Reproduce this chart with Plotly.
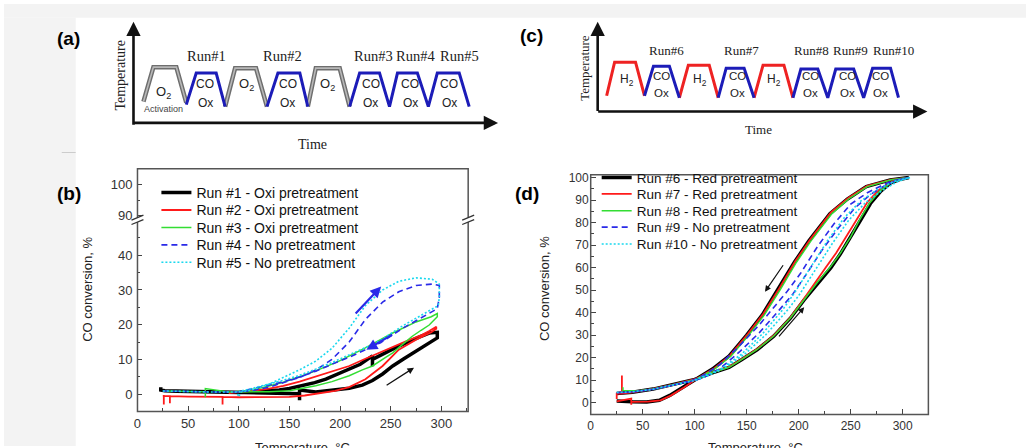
import plotly.graph_objects as go

W, H = 1026, 448


def fx(p):
    return p / W


def fy(p):
    return 1 - p / H


# ---------------- Panel (b): CO conversion (%) vs temperature (°C), runs #1-#5
b_names = ["Run #1 - Oxi pretreatment", "Run #2 - Oxi pretreatment", "Run #3 - Oxi pretreatment",
           "Run #4 - No pretreatment", "Run #5 - No pretreatment"]
run1_T = [23, 23, 27, 45, 60, 80, 95, 110, 127, 145, 160, 160, 160, 176, 195, 209, 222, 232, 242, 252,
          263, 275, 285, 294, 296, 296, 288, 278, 268, 258, 248, 240, 232, 232, 232, 220, 209, 197, 186, 175,
          163, 150, 140, 125, 110, 100, 80, 60, 40, 27]
run1_C = [2.0, 1.2, 1.0, 0.85, 0.75, 0.65, 0.5, 0.4, 0.3, 0.2, 0.1, -1.8, 1.2, 0.6, 1.2, 1.7, 2.6, 3.9, 5.8, 8.1,
          10.2, 12.4, 14.2, 15.7, 16.2, 17.8, 17.6, 16.4, 15.2, 13.8, 12.4, 11.2, 10.0, 8.0, 11.0, 8.6, 7.2, 5.6, 4.3, 3.3,
          2.4, 1.6, 1.2, 0.8, 0.6, 0.5, 0.6, 0.7, 0.8, 0.9]
run2_T = [25, 26, 26, 26, 32, 32, 32, 50, 70, 84, 84, 84, 100, 125, 150, 165, 176, 195, 209, 225,
          242, 258, 275, 290, 295, 295, 288, 281, 265, 242, 225, 209, 192, 176, 160, 144, 130, 115, 100, 90]
run2_C = [-0.5, -0.5, -3.0, -0.5, -0.6, -2.6, -0.6, -0.7, -0.8, -0.8, -3.0, -0.8, -0.9, -0.9, -0.8, -0.4, 0.1, 0.9, 2.0, 4.3,
          8.1, 12.8, 15.7, 17.8, 18.8, 19.4, 18.2, 17.1, 15.2, 12.4, 10.2, 8.1, 6.5, 5.0, 3.6, 2.4, 1.6, 1.0, 0.5, 0.3]
run3_T = [25, 45, 67, 67, 67, 90, 110, 130, 150, 176, 192, 209, 222, 232, 245, 252, 262, 271, 280, 288,
          296, 296, 290, 275, 252, 225, 199, 176, 160, 144, 125, 110, 95]
run3_C = [0.9, 0.8, 0.7, -0.9, 1.6, 0.6, 0.6, 0.7, 1.0, 2.4, 3.6, 5.3, 7.0, 8.1, 10.6, 11.9, 14.4, 16.6, 18.4, 19.9,
          22.3, 23.2, 22.3, 20.8, 17.6, 13.3, 9.5, 6.7, 5.0, 3.4, 2.0, 1.1, 0.6]
run4_T = [25, 50, 75, 100, 115, 130, 143, 160, 176, 192, 209, 225, 242, 258, 275, 291, 298, 298, 296, 285,
          275, 262, 252, 240, 225, 209, 192, 176, 160, 143, 125, 110, 100]
run4_C = [0.9, 0.7, 0.6, 0.6, 1.1, 2.0, 3.2, 4.8, 6.9, 10.0, 15.0, 21.5, 26.5, 29.5, 31.3, 31.7, 31.3, 27.9, 24.6, 22.8,
          21.3, 19.0, 17.1, 14.8, 12.8, 10.6, 8.6, 6.6, 4.9, 3.5, 2.3, 1.3, 0.7]
run5_T = [25, 50, 75, 98, 100, 102, 115, 130, 143, 160, 176, 192, 209, 225, 242, 258, 275, 291, 298, 298,
          297, 285, 275, 262, 252, 240, 225, 209, 192, 176, 160, 143, 125, 110, 100]
run5_C = [0.9, 0.7, 0.6, 0.6, -0.8, 0.6, 1.4, 2.9, 4.6, 7.0, 9.5, 13.2, 19.0, 25.5, 30.0, 32.5, 33.5, 33.1, 31.7, 28.0,
          25.5, 23.5, 22.0, 19.7, 17.8, 15.5, 13.4, 11.2, 9.1, 7.2, 5.4, 3.9, 2.5, 1.4, 0.7]

# ---------------- Panel (d): runs #6-#10
d_names = ["Run #6 - Red pretreatment", "Run #7 - Red pretreatment", "Run #8 - Red pretreatment",
           "Run #9 - No pretreatment", "Run #10 - No pretreatment"]
run6_T = [25, 40, 60, 80, 100, 117, 133, 145, 160, 176, 192, 205, 218, 231, 240, 250, 260, 269, 279, 288,
          298, 306, 288, 265, 247, 230, 210, 196, 180, 165, 150, 133, 117, 101, 89, 76, 66, 54, 40, 25]
run6_C = [4.0, 4.6, 6.0, 8.0, 10.3, 13.2, 15.6, 19.0, 23.5, 29.5, 37.5, 45.5, 53.0, 60.0, 66.0, 73.4, 81.5, 88.5, 94.0, 97.5,
          99.3, 100.0, 99.0, 96.0, 90.5, 84.0, 72.0, 62.5, 50.0, 39.0, 30.0, 20.7, 14.9, 10.5, 6.9, 3.2, 1.0, 0.3, 0.4, 0.7]
run7_T = [25, 25, 30, 30, 30, 40, 60, 80, 100, 117, 133, 145, 160, 176, 192, 204, 215, 226, 236, 246,
          256, 266, 277, 288, 298, 306,
          289, 266, 248, 231, 211, 197, 181, 166, 151, 134, 118, 102, 90, 77, 67, 55, 39, 39, 39, 25]
run7_C = [1.6, 4.0, 4.0, 12.0, 4.0, 4.6, 6.1, 8.1, 10.4, 13.4, 15.9, 19.3, 23.8, 29.8, 37.8, 45.5, 53.0, 60.0, 66.5, 74.0,
          82.0, 89.0, 94.5, 97.8, 99.4, 100.0,
          99.1, 96.3, 91.0, 84.5, 72.5, 63.0, 50.5, 39.5, 30.5, 21.0, 15.0, 10.6, 6.8, 3.1, 1.0, 0.4, 0.3, -1.0, 1.8, 0.5]
run8_T = [31, 31, 45, 60, 80, 100, 117, 133, 145, 160, 176, 192, 205, 218, 230, 240, 250, 259, 268, 278,
          288, 298, 306, 289, 266, 248, 232, 212, 198, 182, 167, 152, 135, 119, 102]
run8_C = [6.8, 5.4, 5.2, 6.0, 8.0, 10.2, 13.3, 15.7, 19.1, 23.6, 29.6, 37.6, 45.6, 53.5, 60.0, 66.3, 73.7, 81.6, 88.6, 94.0,
          97.5, 99.3, 100.0, 99.0, 96.0, 90.5, 84.0, 72.0, 62.5, 50.0, 39.0, 30.0, 20.7, 14.9, 10.5]
run9_T = [25, 40, 60, 80, 100, 110, 124, 143, 162, 181, 194, 208, 222, 238, 254, 269, 282, 294, 306,
          290, 279, 266, 250, 234, 218, 202, 189, 178, 162, 143, 124, 110, 100, 80, 60, 40, 25]
run9_C = [4.4, 4.8, 6.0, 8.0, 9.8, 11.5, 15.0, 22.5, 31.0, 41.0, 48.0, 57.5, 67.5, 77.5, 86.5, 92.5, 96.2, 98.8, 100.0,
          98.6, 96.3, 93.3, 88.2, 79.5, 69.3, 57.6, 49.5, 43.5, 34.5, 25.2, 16.8, 12.6, 10.2, 7.9, 5.9, 4.7, 4.4]
run10_T = [25, 40, 60, 80, 100, 112, 128, 148, 168, 189, 200, 216, 232, 248, 264, 280, 295, 307,
           292, 276, 260, 244, 228, 212, 196, 185, 165, 145, 125, 110, 100]
run10_C = [4.5, 4.8, 5.9, 7.8, 9.8, 11.8, 15.2, 21.5, 30.0, 41.0, 47.5, 59.0, 70.5, 81.0, 88.8, 94.2, 98.2, 100.0,
           98.4, 94.8, 89.7, 82.3, 72.2, 60.5, 48.8, 41.5, 30.5, 21.5, 15.0, 12.0, 10.0]

# ---------------- Schematic (a): temperature programme vs time (arbitrary units)
a_o2_time = [10, 20, 43, 53, None, 92, 102, 123, 134, None, 175, 183, 207, 217]
a_o2_temp = [23, 58, 58, 22, None, 18, 57, 57, 18, None, 18, 57, 57, 18]
a_co_time = [53, 63, 83, 92, None, 134, 145, 167, 175, None, 217, 227, 247, 257, 265, 285, 296, 305, 327, 337]
a_co_temp = [20, 52, 52, 18, None, 18, 52, 52, 18, None, 18, 52, 52, 18, 52, 52, 18, 52, 52, 18]
a_run_labels = ["Run#1", "Run#2", "Run#3", "Run#4", "Run#5"]
a_run_time = [73, 150, 241, 283.5, 327]
a_co_label_time = [72, 155, 238, 278, 317]
a_o2_label_time = [30, 113, 195]
a_o2_label_temp = [32, 40, 40]

# ---------------- Schematic (c)
c_h2_time = [9, 17, 38, 47, None, 82, 91, 112, 121, None, 157, 166, 187, 196]
c_h2_temp = [16, 50, 50, 16, None, 14, 47, 47, 14, None, 14, 47, 47, 14]
c_co_time = [47, 56, 72, 82, None, 121, 129, 147, 157, None, 196, 204, 221, 231, 239, 257, 267, 276, 294, 302]
c_co_temp = [16, 46, 46, 14, None, 14, 44, 44, 14, None, 14, 43, 43, 14, 43, 43, 14, 44, 44, 14]
c_run_labels = ["Run#6", "Run#7", "Run#8", "Run#9", "Run#10"]
c_run_time = [69, 144, 215, 254, 297]
c_co_label_time = [64, 140, 214, 251, 284]
c_h2_label_time = [29, 103, 177]

# ---------------- styles
SANS = "Liberation Sans, Arial, sans-serif"
SERIF = "Liberation Serif, Times New Roman, serif"
styles = [dict(color="#000000", width=3.5, dash="solid"),
          dict(color="#ff1a1a", width=1.8, dash="solid"),
          dict(color="#33dd33", width=1.5, dash="solid"),
          dict(color="#2a2ae8", width=1.6, dash="6px,4px"),
          dict(color="#1ad8ee", width=1.6, dash="2px,2px")]
BLUE_S = "#1c1cb8"

fig = go.Figure()

b_T = [run1_T, run2_T, run3_T, run4_T, run5_T]
b_C = [run1_C, run2_C, run3_C, run4_C, run5_C]
for i, (name, T, C, st) in enumerate(zip(b_names, b_T, b_C, styles)):
    fig.add_trace(go.Scatter(x=T, y=C, mode="lines", name=name, line=st,
                             xaxis="x", yaxis="y", legend="legend" if i == 0 else f"legend{i + 1}"))
fig.add_trace(go.Scatter(x=[None], y=[None], xaxis="x", yaxis="y2", showlegend=False, hoverinfo="skip"))

d_T = [run6_T, run7_T, run8_T, run9_T, run10_T]
d_C = [run6_C, run7_C, run8_C, run9_C, run10_C]
for i, (name, T, C, st) in enumerate(zip(d_names, d_T, d_C, styles)):
    fig.add_trace(go.Scatter(x=T, y=C, mode="lines", name=name, line=st,
                             xaxis="x2", yaxis="y3", legend=f"legend{i + 6}"))

# schematic (a)
fig.add_trace(go.Scatter(x=a_o2_time, y=a_o2_temp, mode="lines", line=dict(color="#6e6e6e", width=4.5),
                         xaxis="x3", yaxis="y4", showlegend=False, hoverinfo="skip"))
fig.add_trace(go.Scatter(x=a_o2_time, y=a_o2_temp, mode="lines", line=dict(color="#b8b8b8", width=1.6),
                         xaxis="x3", yaxis="y4", showlegend=False, hoverinfo="skip"))
fig.add_trace(go.Scatter(x=a_co_time, y=a_co_temp, mode="lines", line=dict(color=BLUE_S, width=3),
                         xaxis="x3", yaxis="y4", showlegend=False, hoverinfo="skip"))
# schematic (c)
fig.add_trace(go.Scatter(x=c_h2_time, y=c_h2_temp, mode="lines", line=dict(color="#ee2222", width=3),
                         xaxis="x4", yaxis="y5", showlegend=False, hoverinfo="skip"))
fig.add_trace(go.Scatter(x=c_co_time, y=c_co_temp, mode="lines", line=dict(color=BLUE_S, width=3),
                         xaxis="x4", yaxis="y5", showlegend=False, hoverinfo="skip"))

tickfont_b = dict(family=SANS, size=13, color="#333333")
tickfont_d = dict(family=SANS, size=12, color="#333333")
common = dict(showgrid=False, zeroline=False, showline=False, ticks="inside", ticklen=5,
              tickwidth=1, tickcolor="#444444", fixedrange=True)

annotations = []
shapes = []


def label(text, x, y, xref="paper", yref="paper", **kw):
    d = dict(text=text, x=x, y=y, xref=xref, yref=yref, showarrow=False,
             xanchor="center", yanchor="middle")
    d.update(kw)
    annotations.append(d)


# background bands
shapes.append(dict(type="rect", xref="paper", yref="paper", x0=fx(0), x1=fx(W), y0=fy(14), y1=fy(0),
                   fillcolor="#f3f3f3", line=dict(width=0), layer="below"))
shapes.append(dict(type="rect", xref="paper", yref="paper", x0=fx(0), x1=fx(72), y0=fy(H), y1=fy(14),
                   fillcolor="#f3f3f3", line=dict(width=0), layer="below"))
shapes.append(dict(type="line", xref="paper", yref="paper", x0=fx(58), x1=fx(72), y0=fy(150.5), y1=fy(150.5),
                   line=dict(color="#cccccc", width=1)))

# frames
FR = "#555555"
shapes.append(dict(type="rect", xref="paper", yref="paper", x0=fx(134), x1=fx(466), y0=fy(413), y1=fy(167),
                   line=dict(color=FR, width=1.5)))
shapes.append(dict(type="rect", xref="paper", yref="paper", x0=fx(589), x1=fx(928), y0=fy(416), y1=fy(173),
                   line=dict(color=FR, width=1.5)))
# axis break marks on (b)
for xc in (134, 466):
    shapes.append(dict(type="rect", xref="paper", yref="paper", x0=fx(xc - 3), x1=fx(xc + 3), y0=fy(221), y1=fy(216.5),
                       fillcolor="white", line=dict(width=0)))
    shapes.append(dict(type="line", xref="paper", yref="paper", x0=fx(xc - 6), x1=fx(xc + 6), y0=fy(219), y1=fy(214),
                       line=dict(color="#333333", width=1.3)))
    shapes.append(dict(type="line", xref="paper", yref="paper", x0=fx(xc - 6), x1=fx(xc + 6), y0=fy(223.5), y1=fy(218.5),
                       line=dict(color="#333333", width=1.3)))

# panel letters
for txt, x, y in [("(a)", 65, 35), ("(b)", 65, 192), ("(c)", 530, 32), ("(d)", 525, 192)]:
    label(f"<b>{txt}</b>", fx(x), fy(y), font=dict(family=SANS, size=19, color="black"))

# axis titles
for x, y in [(83, 289), (542, 288)]:
    label("CO conversion, %", fx(x), fy(y), textangle=-90, font=dict(family=SANS, size=13, color="#222222"))
for x, y in [(300, 450), (754, 450)]:
    label("Temperature, °C", fx(x), fy(y), font=dict(family=SANS, size=13, color="#222222"))

# schematic axes titles
label("Temperature", fx(116), fy(72), textangle=-90, font=dict(family=SERIF, size=14, color="#222222"))
label("Time", fx(310), fy(142), font=dict(family=SERIF, size=14, color="#222222"))
label("Temperature", fx(582), fy(65), textangle=-90, font=dict(family=SERIF, size=13, color="#222222"))
label("Time", fx(757), fy(127), font=dict(family=SERIF, size=13, color="#222222"))

# schematic axis arrows
for xr, yr, x, y, ax, ay in [("x3", "y4", 0, 104, 0, -2), ("x3", "y4", 366, 1.5, -1, 1.5),
                              ("x4", "y5", 0, 91, 0, -1), ("x4", "y5", 331, 0, -1, 0)]:
    annotations.append(dict(x=x, y=y, ax=ax, ay=ay, xref=xr, yref=yr, axref=xr, ayref=yr, text="",
                            showarrow=True, arrowhead=2, arrowsize=1.1, arrowwidth=2.6, arrowcolor="#111111"))

# schematic labels (a)
for lab, t in zip(a_run_labels, a_run_time):
    label(lab, t, 69, "x3", "y4", font=dict(family=SERIF, size=14.5, color="#222222"))
for t in a_co_label_time:
    label("CO", t, 41, "x3", "y4", font=dict(family=SANS, size=12, color="#222222"))
    label("Ox", t, 22, "x3", "y4", font=dict(family=SANS, size=12, color="#222222"))
for t, tp in zip(a_o2_label_time, a_o2_label_temp):
    label("O<sub>2</sub>", t, tp, "x3", "y4", font=dict(family=SANS, size=13, color="#222222"))
label("Activation", 30, 16, "x3", "y4", font=dict(family=SANS, size=9, color="#444444"))
# schematic labels (c)
for lab, t in zip(c_run_labels, c_run_time):
    label(lab, t, 62, "x4", "y5", font=dict(family=SERIF, size=13, color="#222222"))
for t in c_co_label_time:
    label("CO", t, 36, "x4", "y5", font=dict(family=SANS, size=11.5, color="#222222"))
    label("Ox", t, 19, "x4", "y5", font=dict(family=SANS, size=11.5, color="#222222"))
for t in c_h2_label_time:
    label("H<sub>2</sub>", t, 32, "x4", "y5", font=dict(family=SANS, size=12, color="#222222"))

# direction arrows in (b) and (d)
for xr, yr, tail, head, col, w in [("x", "y", (214, 22.8), (240.6, 31.0), "#2a2ae8", 2.2),
                                   ("x", "y", (253, 17.4), (226, 12.8), "#2a2ae8", 2.2),
                                   ("x", "y", (244.5, 2.3), (273, 7.6), "#111111", 1.3),
                                   ("x2", "y3", (186, 61.7), (167.6, 49.3), "#111111", 1.2),
                                   ("x2", "y3", (179.8, 28.8), (205.3, 42.4), "#111111", 1.2)]:
    annotations.append(dict(x=head[0], y=head[1], ax=tail[0], ay=tail[1], xref=xr, yref=yr, axref=xr, ayref=yr,
                            text="", showarrow=True, arrowhead=2, arrowsize=1, arrowwidth=w, arrowcolor=col))

# one legend per row so that rows sit where the reference shows them
legends = {}
b_rows = [193.3, 211.0, 228.7, 246.3, 264.0]
d_rows = [177.3, 194.0, 211.0, 227.7, 244.7]
for i, r in enumerate(b_rows):
    key = "legend" if i == 0 else f"legend{i + 1}"
    legends[key] = dict(x=fx(153), y=fy(r - 18), xanchor="left", yanchor="top", bgcolor="rgba(0,0,0,0)",
                        font=dict(family=SANS, size=14, color="#111111"), borderwidth=0)
for i, r in enumerate(d_rows):
    legends[f"legend{i + 6}"] = dict(x=fx(595), y=fy(r - 17), xanchor="left", yanchor="top",
                                     bgcolor="rgba(0,0,0,0)",
                                     font=dict(family=SANS, size=13.5, color="#111111"), borderwidth=0)

fig.update_layout(
    width=W, height=H, margin=dict(l=0, r=0, t=0, b=0),
    paper_bgcolor="white", plot_bgcolor="rgba(0,0,0,0)",
    showlegend=True,
    xaxis=dict(domain=[fx(134), fx(466)], range=[0, 326.5], anchor="y", tickvals=[0, 50, 100, 150, 200, 250, 300],
               minor=dict(tickvals=[25, 75, 125, 175, 225, 275, 325], ticks="inside", ticklen=3, tickcolor="#444444"),
               tickfont=tickfont_b, ticklabelstandoff=3, **common),
    yaxis=dict(domain=[fy(413), fy(219.5)], range=[-5, 50], anchor="x", tickvals=[0, 10, 20, 30, 40],
               minor=dict(tickvals=[-5, 5, 15, 25, 35, 45], ticks="inside", ticklen=3, tickcolor="#444444"),
               tickfont=tickfont_b, ticklabelstandoff=4, **common),
    yaxis2=dict(domain=[fy(219.5), fy(167)], range=[88.3, 105.3], anchor="x", tickvals=[90, 100],
                minor=dict(tickvals=[95], ticks="inside", ticklen=3, tickcolor="#444444"),
                tickfont=tickfont_b, ticklabelstandoff=4, **common),
    xaxis2=dict(domain=[fx(589), fx(928)], range=[0, 324.7], anchor="y3", tickvals=[0, 50, 100, 150, 200, 250, 300],
                minor=dict(tickvals=[25, 75, 125, 175, 225, 275], ticks="inside", ticklen=3, tickcolor="#444444"),
                tickfont=tickfont_d, ticklabelstandoff=3, **common),
    yaxis3=dict(domain=[fy(416), fy(173)], range=[-5.26, 101.3], anchor="x2",
                tickvals=[0, 10, 20, 30, 40, 50, 60, 70, 80, 90, 100],
                minor=dict(tickvals=[5, 15, 25, 35, 45, 55, 65, 75, 85, 95], ticks="inside", ticklen=3, tickcolor="#444444"),
                tickfont=tickfont_d, ticklabelstandoff=1, **common),
    xaxis3=dict(domain=[fx(130), fx(500)], range=[0, 370], anchor="y4", visible=False, fixedrange=True),
    yaxis4=dict(domain=[fy(125), fy(15)], range=[-3, 107], anchor="x3", visible=False, fixedrange=True),
    xaxis4=dict(domain=[fx(596), fx(932)], range=[0, 336], anchor="y5", visible=False, fixedrange=True),
    yaxis5=dict(domain=[fy(112), fy(15)], range=[-3, 94], anchor="x4", visible=False, fixedrange=True),
    shapes=shapes, annotations=annotations,
    **legends,
)

fig.write_html("out.html", config={"displayModeBar": False},
               post_script="document.body.style.margin='0px';")
